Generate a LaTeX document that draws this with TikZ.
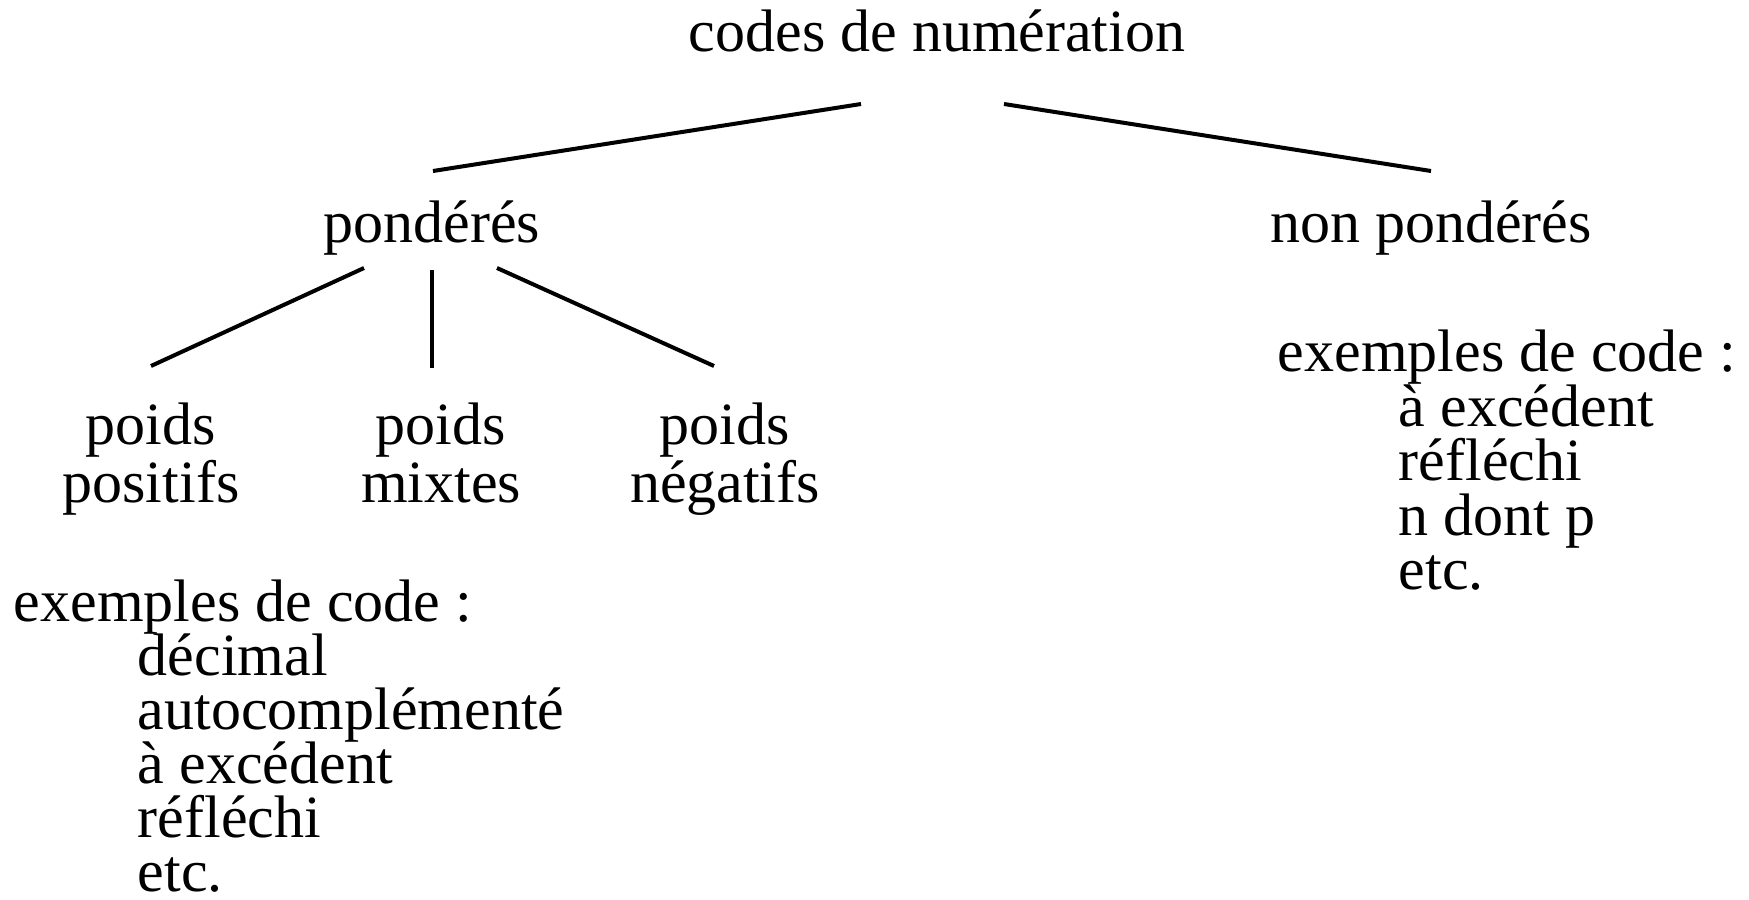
\documentclass[tikz,border=0pt]{standalone}
\usepackage{fontspec}
\setmainfont{Liberation Serif}
\begin{document}
\begin{tikzpicture}[x=0.25pt,y=-0.25pt,
  every node/.style={inner sep=0pt, font=\fontsize{15pt}{18pt}\selectfont},
  lbl/.style={anchor=base},
  lblw/.style={anchor=base west},
  edge/.style={line width=1pt}]
\useasboundingbox (0,0) rectangle (1749,900);
% tree labels
\node[lbl] (root) at (937,51) {codes de numération};
\node[lbl] (pond) at (432,242) {pondérés};
\node[lbl] (npond) at (1431,242) {non pondérés};
\node[lbl] (pos1) at (151,444) {poids};
\node[lbl] (pos2) at (151,502) {positifs};
\node[lbl] (mix1) at (441,444) {poids};
\node[lbl] (mix2) at (441,502) {mixtes};
\node[lbl] (neg1) at (725,444) {poids};
\node[lbl] (neg2) at (725,502) {négatifs};
% left examples
\node[lblw] (exL) at (13,621) {exemples de code :};
\node[lblw] (exL1) at (137,675) {décimal};
\node[lblw] (exL2) at (137,729) {autocomplémenté};
\node[lblw] (exL3) at (137,783) {à excédent};
\node[lblw] (exL4) at (137,837) {réfléchi};
\node[lblw] (exL5) at (137,891) {etc.};
% right examples
\node[lblw] (exR) at (1277,371) {exemples de code :};
\node[lblw] (exR1) at (1398,426) {à excédent};
\node[lblw] (exR2) at (1398,480) {réfléchi};
\node[lblw] (exR3) at (1398,535) {n dont p};
\node[lblw] (exR4) at (1398,589) {etc.};
% connector end points
\coordinate (rootL) at (861,104);
\coordinate (rootR) at (1004,104);
\coordinate (pondT) at (433,171);
\coordinate (npondT) at (1431,171);
\coordinate (pondL) at (364,268);
\coordinate (pondM) at (432,270);
\coordinate (pondR) at (497,268);
\coordinate (posT) at (151,366);
\coordinate (mixT) at (432,368);
\coordinate (negT) at (714,366);
\draw[edge] (rootL) -- (pondT);
\draw[edge] (rootR) -- (npondT);
\draw[edge] (pondL) -- (posT);
\draw[edge] (pondM) -- (mixT);
\draw[edge] (pondR) -- (negT);
\end{tikzpicture}
\end{document}
